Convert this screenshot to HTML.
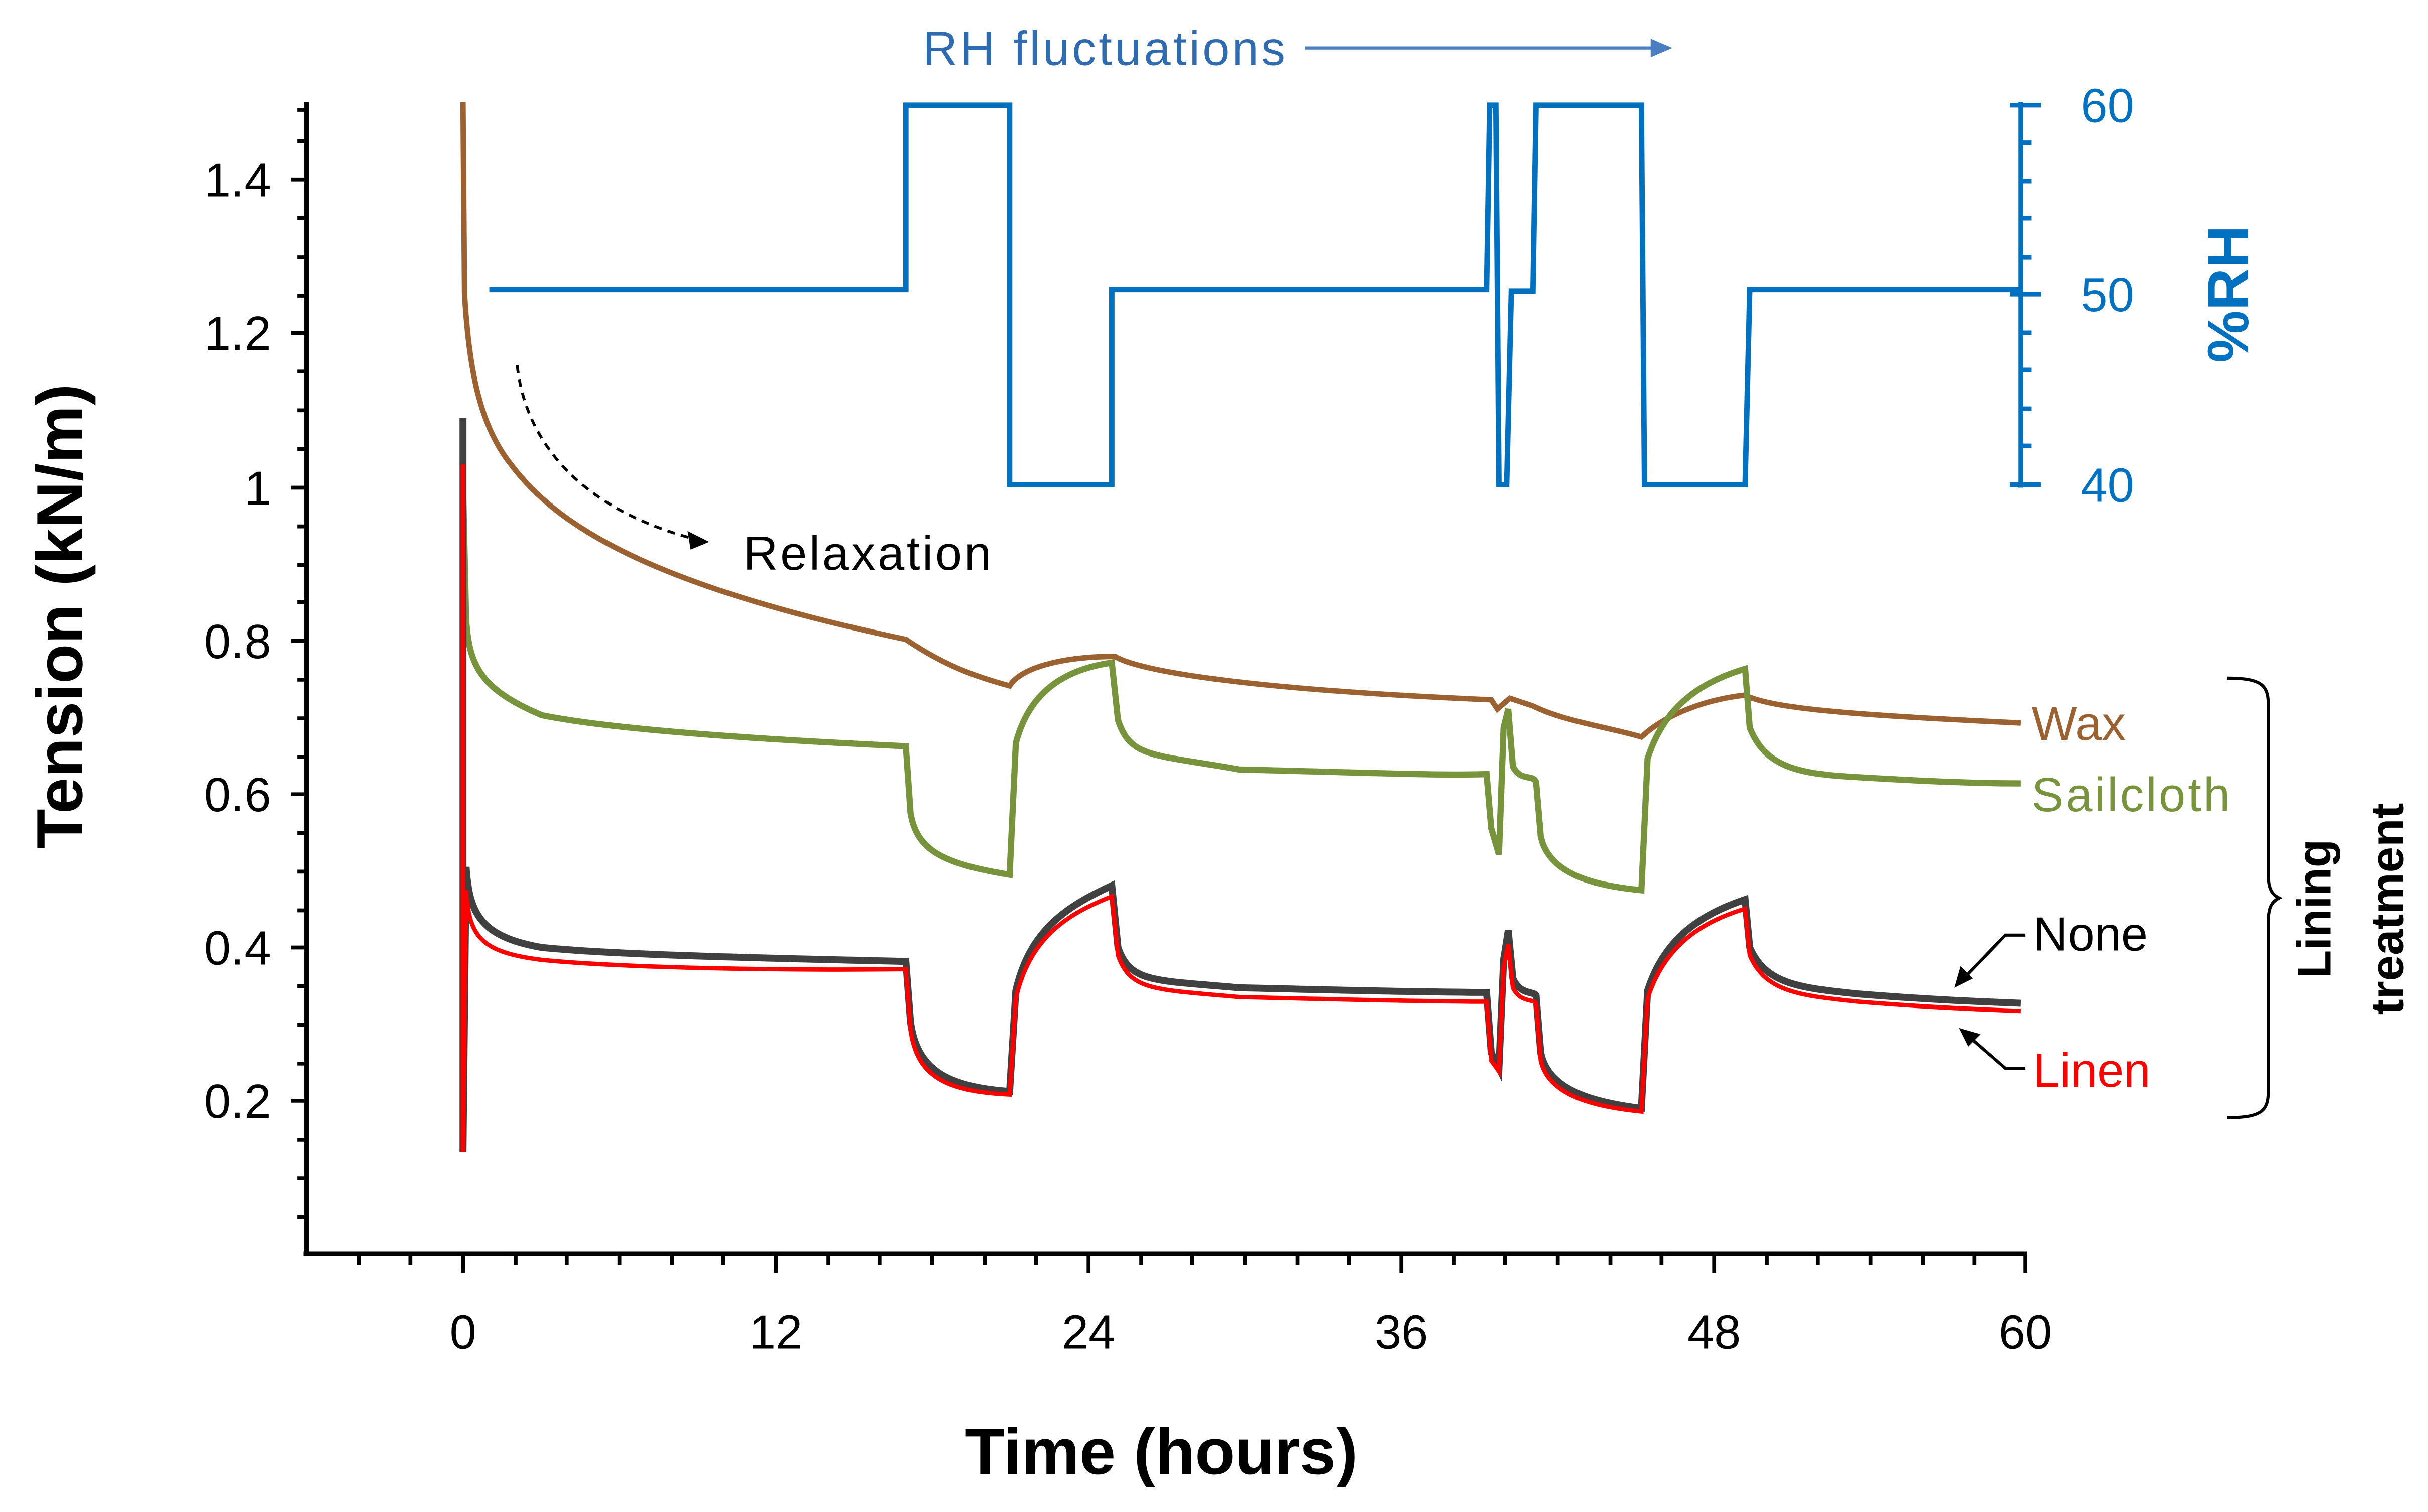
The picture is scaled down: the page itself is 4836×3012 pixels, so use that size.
<!DOCTYPE html>
<html><head><meta charset="utf-8"><style>html,body{margin:0;padding:0;background:#fff}svg{display:block}</style></head>
<body>
<svg width="4836" height="3012" viewBox="0 0 1568 976.6" preserveAspectRatio="none" xmlns="http://www.w3.org/2000/svg" font-family="Liberation Sans, sans-serif">
<rect width="1568" height="977" fill="#fff"/>
<g stroke="#000" stroke-width="3" fill="none">
<line x1="198" y1="66" x2="198" y2="811"/>
<line x1="196" y1="810" x2="1309" y2="810"/>
</g>
<g stroke="#000" stroke-width="2.5">
<path d="M188 116H198M188 215H198M188 315H198M188 414H198M188 513H198M188 612H198M188 711H198"/>
<path d="M192 91H198M192 141H198M192 166H198M192 191H198M192 240H198M192 265H198M192 290H198M192 340H198M192 365H198M192 389H198M192 439H198M192 464H198M192 489H198M192 538H198M192 563H198M192 588H198M192 637H198M192 662H198M192 687H198M192 736H198M192 761H198M192 786H198M192 71H198"/>
<path d="M299 810V822M501 810V822M703 810V822M905 810V822M1107 810V822M1308 810V822"/>
<path d="M232 810V817M265 810V817M333 810V817M366 810V817M400 810V817M434 810V817M467 810V817M535 810V817M568 810V817M602 810V817M636 810V817M669 810V817M737 810V817M770 810V817M804 810V817M838 810V817M871 810V817M939 810V817M972 810V817M1006 810V817M1040 810V817M1073 810V817M1141 810V817M1174 810V817M1208 810V817M1242 810V817M1275 810V817"/>
</g>
<g font-size="31" text-anchor="end" fill="#000">
<text x="175" y="127">1.4</text><text x="175" y="226">1.2</text><text x="175" y="326">1</text><text x="175" y="425">0.8</text><text x="175" y="524">0.6</text><text x="175" y="623">0.4</text><text x="175" y="722">0.2</text>
</g>
<g font-size="31" text-anchor="middle" fill="#000">
<text x="299" y="871">0</text><text x="501" y="871">12</text><text x="703" y="871">24</text><text x="905" y="871">36</text><text x="1107" y="871">48</text><text x="1308" y="871">60</text>
</g>
<text x="750" y="952" font-size="42" font-weight="bold" text-anchor="middle">Time (hours)</text>
<text transform="translate(53,398) rotate(-90)" font-size="42" font-weight="bold" text-anchor="middle">Tension (kN/m)</text>
<g stroke="#0070C0" stroke-width="3">
<line x1="1305" y1="66" x2="1305" y2="315"/>
<path d="M1298 68H1318M1298 190H1318M1298 313H1318"/>
<path d="M1305 92H1312M1305 117H1312M1305 141H1312M1305 166H1312M1305 215H1312M1305 239H1312M1305 264H1312M1305 288H1312"/>
</g>
<g font-size="31" fill="#0070C0" text-anchor="middle"><text x="1361" y="79">60</text><text x="1361" y="201">50</text><text x="1361" y="324">40</text></g>
<text transform="translate(1452,190) rotate(-90)" font-size="38" font-weight="bold" fill="#0070C0" text-anchor="middle">%RH</text>
<text x="596" y="42" font-size="31" fill="#2E6BB0" textLength="234">RH fluctuations</text>
<line x1="843" y1="31" x2="1070" y2="31" stroke="#4A7EC0" stroke-width="2"/>
<path d="M1080 31L1066 25V37Z" fill="#4A7EC0"/>
<path d="M316 187H585V68H652V313H718V187H960L962 68H966L968 313H973L976 188H990L992 68H1060L1062 313H1127L1130 187H1305" fill="none" stroke="#0070C0" stroke-width="3.5"/>
<path d="M299 66L300 190C303 240 310 275 330 300C360 340 420 378 585 413C610 430 630 437 652 443C660 430 690 424 720 424C735 433 800 445 963 452L967 458L975 451L990 456C1010 466 1040 470 1060 476C1075 462 1100 452 1127 449C1145 458 1200 462 1305 467" fill="none" stroke="#9C6130" stroke-width="3.5"/>
<path d="M299 312L301 400C303 430 310 445 350 462C400 472 500 478 585 482L588 525C592 550 610 558 652 565L656 480C665 445 690 432 718 428L722 465C730 490 745 487 800 497C880 499 930 501 960 500L963 535L968 552L971 470L974 458L977 495C982 505 990 500 992 505L995 540C1000 565 1030 572 1060 575L1064 490C1075 455 1100 440 1127 432L1130 470C1140 495 1160 500 1200 502C1250 505 1280 506 1305 506" fill="none" stroke="#77933C" stroke-width="4"/>
<path d="M299 270L299 744L301 560C303 590 310 605 350 612C400 617 500 619 585 621L588 660C592 690 610 702 652 705L656 640C665 600 690 585 718 572L722 612C730 635 745 633 800 638C880 640 930 641 960 641L963 680L968 690L971 620L974 601L977 632C982 643 990 640 992 643L995 680C1000 705 1030 712 1060 716L1064 640C1075 605 1100 590 1127 581L1130 612C1140 635 1160 638 1200 642C1250 646 1280 647 1305 648" fill="none" stroke="#404040" stroke-width="4.5"/>
<path d="M299 300L299 744L301 575C303 605 310 615 350 620C400 625 500 627 585 626L588 665C592 695 610 705 652 707L656 645C665 605 690 590 718 579L722 617C730 640 745 639 800 644C880 646 930 647 960 647L963 685L968 692L971 625L974 610L977 638C982 648 990 645 992 648L995 685C1000 708 1030 715 1060 718L1064 645C1075 610 1100 595 1127 587L1130 617C1140 640 1160 643 1200 647C1250 651 1280 652 1305 653" fill="none" stroke="#FF0000" stroke-width="2.8"/>
<path d="M334 236C340 290 380 330 448 348" fill="none" stroke="#000" stroke-width="1.8" stroke-dasharray="5,4"/>
<path d="M458 350L444 343L446 355Z" fill="#000"/>
<text x="480" y="368" font-size="31" textLength="160">Relaxation</text>
<text x="1312" y="478" font-size="31" fill="#9C6130">Wax</text>
<text x="1312" y="524" font-size="31" fill="#77933C" textLength="128">Sailcloth</text>
<text x="1313" y="614" font-size="31" fill="#000">None</text>
<text x="1313" y="702" font-size="31" fill="#FF0000">Linen</text>
<path d="M1308 604H1295L1270 630" fill="none" stroke="#000" stroke-width="2"/>
<path d="M1262 638L1266 624L1274 632Z" fill="#000"/>
<path d="M1308 690H1295L1272 670" fill="none" stroke="#000" stroke-width="2"/>
<path d="M1265 664L1279 668L1271 676Z" fill="#000"/>
<path d="M1438 438C1460 438 1465 442 1465 455V565C1465 575 1468 578 1472 580C1468 582 1465 585 1465 595V705C1465 718 1460 722 1438 722" fill="none" stroke="#000" stroke-width="2"/>
<text transform="translate(1505,587) rotate(-90)" font-size="30" font-weight="bold" text-anchor="middle">Lining</text>
<text transform="translate(1552,587) rotate(-90)" font-size="30" font-weight="bold" text-anchor="middle">treatment</text>
</svg>
</body></html>
